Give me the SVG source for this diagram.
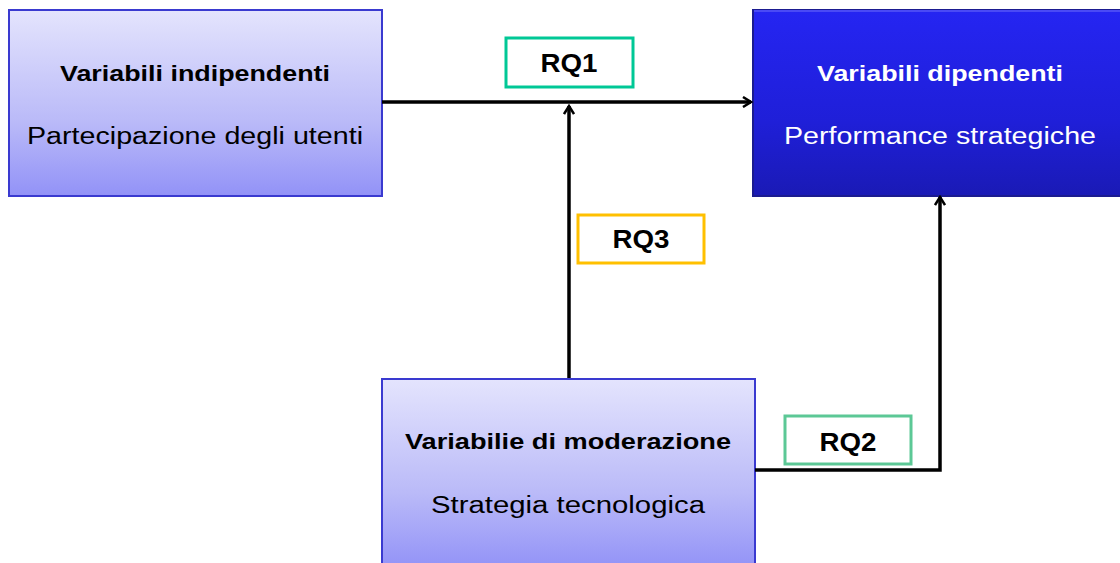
<svg xmlns="http://www.w3.org/2000/svg" width="1120" height="563" viewBox="0 0 1120 563">
  <defs>
    <linearGradient id="lightFill" x1="0" y1="0" x2="0" y2="1">
      <stop offset="0" stop-color="#e4e4fd"/>
      <stop offset="0.6" stop-color="#babaf8"/>
      <stop offset="1" stop-color="#9292f7"/>
    </linearGradient>
    <linearGradient id="darkFill" x1="0" y1="0" x2="0" y2="1">
      <stop offset="0" stop-color="#2525f2"/>
      <stop offset="0.6" stop-color="#1f1fd8"/>
      <stop offset="1" stop-color="#1a1ab5"/>
    </linearGradient>
    <marker id="arrow" viewBox="0 0 12 12" refX="10" refY="6" markerWidth="12" markerHeight="12" markerUnits="userSpaceOnUse" orient="auto">
      <path d="M2,1 L10,6 L2,11" fill="none" stroke="#000" stroke-width="2.5" stroke-linejoin="miter"/>
    </marker>
    <style>
      .light { fill: url(#lightFill); stroke: #3a3ad0; stroke-width: 2; }
      .dark { fill: url(#darkFill); stroke: #1b1b90; stroke-width: 2; }
      .title { font-family: "Liberation Sans", Arial, sans-serif; font-weight: bold; font-size: 22px; text-anchor: middle; }
      .sub { font-family: "Liberation Sans", Arial, sans-serif; font-weight: normal; font-size: 23px; text-anchor: middle; }
      .rq { fill: #fff; stroke-width: 3; }
      .rqtext { font-family: "Liberation Sans", Arial, sans-serif; font-weight: bold; font-size: 25px; text-anchor: middle; fill: #000; }
      .conn { fill: none; stroke: #000; stroke-width: 3.5; }
    </style>
  </defs>

  <g id="indipendenti">
    <rect class="light" x="9" y="10" width="373" height="186"/>
    <text class="title" x="195" y="81" textLength="270" lengthAdjust="spacingAndGlyphs">Variabili indipendenti</text>
    <text class="sub" x="195" y="144" textLength="336" lengthAdjust="spacingAndGlyphs">Partecipazione degli utenti</text>
  </g>

  <g id="dipendenti">
    <rect class="dark" x="753" y="10" width="370" height="186"/>
    <line x1="754" y1="11" x2="1120" y2="11" stroke="#4a4af5" stroke-width="2"/>
    <text class="title" x="940" y="81" fill="#fff" textLength="246" lengthAdjust="spacingAndGlyphs">Variabili dipendenti</text>
    <text class="sub" x="940" y="144" fill="#fff" textLength="312" lengthAdjust="spacingAndGlyphs">Performance strategiche</text>
  </g>

  <g id="moderazione">
    <rect class="light" x="382" y="379" width="373" height="190"/>
    <text class="title" x="568" y="449" textLength="326" lengthAdjust="spacingAndGlyphs">Variabilie di moderazione</text>
    <text class="sub" x="568" y="513" textLength="274" lengthAdjust="spacingAndGlyphs">Strategia tecnologica</text>
  </g>

  <g id="connectors">
    <line class="conn" x1="382" y1="102" x2="751" y2="102" marker-end="url(#arrow)"/>
    <line class="conn" x1="569" y1="378" x2="569" y2="106" marker-end="url(#arrow)"/>
    <polyline class="conn" points="755,470 940,470 940,197" marker-end="url(#arrow)"/>
  </g>

  <g id="rq1">
    <rect class="rq" x="506" y="38" width="127" height="49" stroke="#00c896"/>
    <text class="rqtext" x="569" y="72" textLength="57" lengthAdjust="spacingAndGlyphs">RQ1</text>
  </g>

  <g id="rq3">
    <rect class="rq" x="578" y="215" width="126" height="48" stroke="#ffc000"/>
    <text class="rqtext" x="641" y="248" textLength="57" lengthAdjust="spacingAndGlyphs">RQ3</text>
  </g>

  <g id="rq2">
    <rect class="rq" x="785" y="416" width="126" height="48" stroke="#5cc896"/>
    <text class="rqtext" x="848" y="451" textLength="57" lengthAdjust="spacingAndGlyphs">RQ2</text>
  </g>
</svg>
